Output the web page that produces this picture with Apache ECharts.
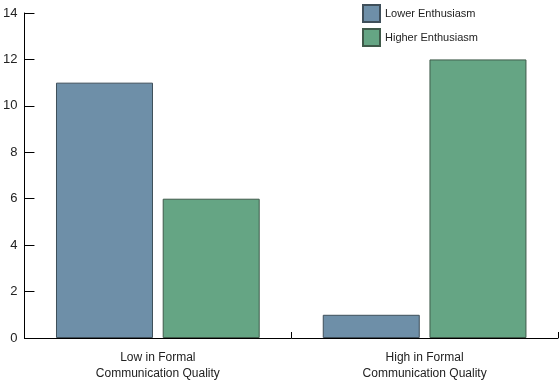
<!DOCTYPE html>
<html><head><meta charset="utf-8">
<script src="https://cdn.jsdelivr.net/npm/echarts@6/dist/echarts.min.js"></script>
<style>html,body{margin:0;padding:0;background:#fff}#c{width:560px;height:390px}</style>
</head><body><div id="c"></div>
<script>
var categories = ['Low in Formal\nCommunication Quality', 'High in Formal\nCommunication Quality'];
var seriesNames = ['Lower Enthusiasm', 'Higher Enthusiasm'];
var lowerValues = [11, 1];
var higherValues = [6, 12];
var yTicks = [0, 2, 4, 6, 8, 10, 12, 14];

var chart = echarts.init(document.getElementById('c'), null, {renderer: 'canvas'});
var font = 'Liberation Sans, Arial, Helvetica, sans-serif';
chart.setOption({
  animation: false,
  textStyle: {fontFamily: font},
  legend: {
    left: 362, top: 4, orient: 'vertical', padding: 0,
    itemWidth: 17, itemHeight: 17, itemGap: 5,
    icon: 'rect',
    textStyle: {fontSize: 11, color: '#222', fontFamily: font},
    data: seriesNames
  },
  grid: {left: 22, right: 2, top: 13, bottom: 52, containLabel: false},
  xAxis: {
    type: 'category', data: categories,
    axisLine: {lineStyle: {color: '#000', width: 1}},
    axisTick: {show: true, inside: true, length: 6, lineStyle: {color: '#000'}},
    axisLabel: {fontSize: 12, color: '#222', fontFamily: font, lineHeight: 16, margin: 12}
  },
  yAxis: {
    type: 'value', min: yTicks[0], max: yTicks[yTicks.length-1], interval: 2,
    splitLine: {show: false},
    axisLine: {show: true, lineStyle: {color: '#000', width: 1}},
    axisTick: {show: true, inside: true, length: 10, lineStyle: {color: '#000'}},
    axisLabel: {fontSize: 13, color: '#222', fontFamily: font, margin: 7}
  },
  series: [
    {name: seriesNames[0], type: 'bar', data: lowerValues, barWidth: 97, barGap: '10%',
     itemStyle: {color: '#6e8fa8', borderColor: '#3f4f5a', borderWidth: 1}},
    {name: seriesNames[1], type: 'bar', data: higherValues, barWidth: 97,
     itemStyle: {color: '#65a584', borderColor: '#3f5a4a', borderWidth: 1}}
  ]
});
</script></body></html>
